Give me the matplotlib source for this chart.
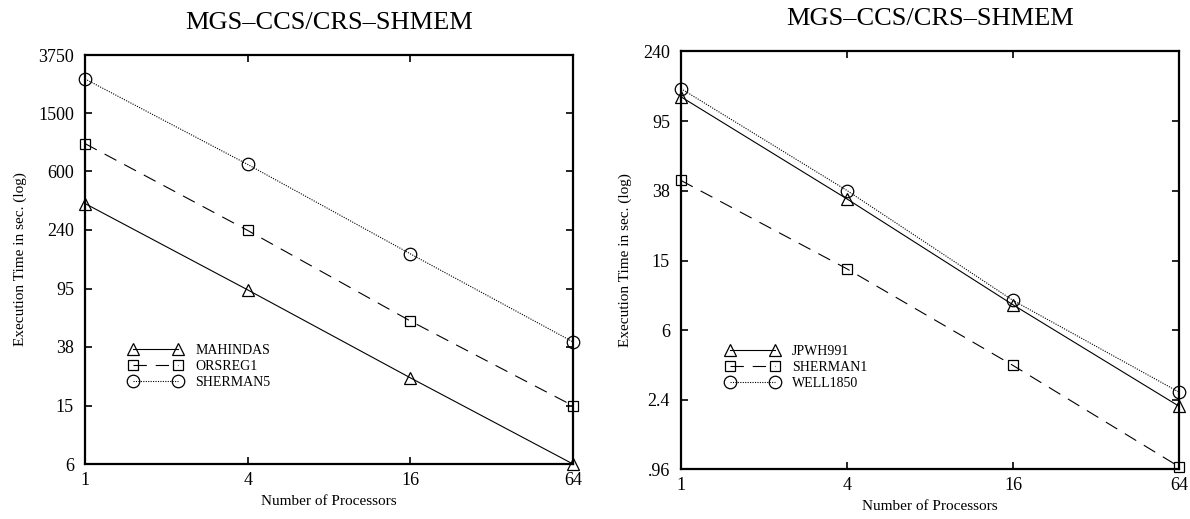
import matplotlib
matplotlib.use("Agg")
import matplotlib.pyplot as plt
from matplotlib.ticker import FixedLocator, FixedFormatter, NullLocator

plt.rcParams['font.family'] = ['Liberation Serif', 'DejaVu Serif']

procs = [1, 4, 16, 64]
xtick_labels = ["1", "4", "16", "64"]

# Left panel
left_title = "MGS\u2013CCS/CRS\u2013SHMEM"
left_names = ["MAHINDAS", "ORSREG1", "SHERMAN5"]
mahindas = [362, 93, 23.3, 6]
orsreg1 = [930, 237, 57, 15]
sherman5 = [2574, 670, 164, 41]
left_yticks = [6, 15, 38, 95, 240, 600, 1500, 3750]
left_ytick_labels = ["6", "15", "38", "95", "240", "600", "1500", "3750"]

# Right panel
right_title = "MGS\u2013CCS/CRS\u2013SHMEM"
right_names = ["JPWH991", "SHERMAN1", "WELL1850"]
jpwh991 = [131, 34, 8.4, 2.2]
sherman1 = [43.4, 13.5, 3.77, 0.99]
well1850 = [146, 38, 8.9, 2.65]
right_yticks = [0.96, 2.4, 6, 15, 38, 95, 240]
right_ytick_labels = [".96", "2.4", "6", "15", "38", "95", "240"]

fig = plt.figure(figsize=(11.9, 5.19), dpi=100)
axL = fig.add_axes([85/1190, 1-464/519, (573-85)/1190, (464-55)/519])
axR = fig.add_axes([681/1190, 1-469/519, (1179-681)/1190, (469-51)/519])

styles = [
    dict(linestyle='-', marker='^', markersize=9),
    dict(linestyle=(0, (12, 8)), marker='s', markersize=7),
    dict(linestyle=(0, (1, 1.2)), marker='o', markersize=9),
]

def draw(ax, series, names, yticks, ylabels, title, legend_anchor):
    for s, n, st in zip(series, names, styles):
        ax.plot(procs, s, color='black', linewidth=0.8, markerfacecolor='none',
                markeredgecolor='black', markeredgewidth=0.9, label=n,
                clip_on=False, **st)
    ax.set_xscale('log')
    ax.set_yscale('log')
    ax.set_xlim(procs[0], procs[-1])
    ax.set_ylim(yticks[0], yticks[-1])
    ax.xaxis.set_major_locator(FixedLocator(procs))
    ax.xaxis.set_major_formatter(FixedFormatter(xtick_labels))
    ax.xaxis.set_minor_locator(NullLocator())
    ax.yaxis.set_major_locator(FixedLocator(yticks))
    ax.yaxis.set_major_formatter(FixedFormatter(ylabels))
    ax.yaxis.set_minor_locator(NullLocator())
    ax.tick_params(direction='in', length=5, width=1.2, top=True, right=True,
                   labelsize=13, pad=6)
    ax.tick_params(axis='y', pad=8)
    for sp in ax.spines.values():
        sp.set_linewidth(1.6)
    ax.set_xlabel("Number of Processors", fontsize=11, labelpad=4)
    ax.set_ylabel("Execution Time in sec. (log)", fontsize=11, labelpad=8)
    ax.set_title(title, fontsize=19, pad=19)
    ax.legend(loc='upper left', bbox_to_anchor=legend_anchor, frameon=False,
              fontsize=10, handlelength=3.85, handletextpad=0.95, numpoints=2,
              labelspacing=0.2, borderaxespad=0)

draw(axL, [mahindas, orsreg1, sherman5], left_names, left_yticks,
     left_ytick_labels, left_title, (0.078, 0.307))
draw(axR, [jpwh991, sherman1, well1850], right_names, right_yticks,
     right_ytick_labels, right_title, (0.078, 0.31))

fig.savefig("out.png", dpi=100)
